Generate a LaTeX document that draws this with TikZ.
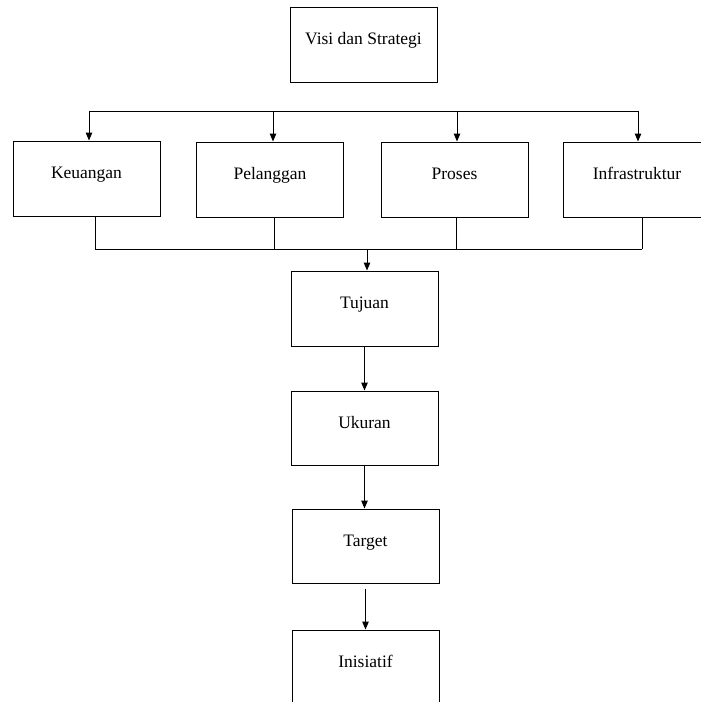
\documentclass[tikz,border=0pt]{standalone}
\usepackage{fontspec}
\setmainfont{Liberation Serif}
\usetikzlibrary{arrows.meta}
\tikzset{
        kotak/.style = {rectangle, draw=black, line width=1pt, align=center,
            inner sep=0pt, minimum width=147pt, minimum height=75pt,
            text height=13.5pt, text depth=13.5pt,
            font=\fontsize{17.5}{20}\selectfont},
        panah/.style = {-{Triangle[length=8pt,width=6.5pt]}, line width=1pt}
    }
\begin{document}
\begin{tikzpicture}[x=1pt, y=-1pt, line width=1pt]
            \useasboundingbox (0,0) rectangle (701,702);
            \node [kotak] (visi) at (363.5,44.5) {Visi dan Strategi}; % PUNCAK
            % perspektif
            \node [kotak] (keu) at (86.5,178.5) {Keuangan};
            \node [kotak] (pel) at (270,179.5) {Pelanggan};
            \node [kotak] (pro) at (454.5,179.5) {Proses};
            \node [kotak] (inf) at (637,179.5) {Infrastruktur};
            % alur ke bawah
            \node [kotak] (tuj) at (364.5,308.5) {Tujuan};
            \node [kotak, minimum height=74pt] (uku) at (364.5,428) {Ukuran};
            \node [kotak, minimum height=74pt] (tar) at (365.5,546) {Target};
            \node [kotak] (ini) at (365.5,667.5) {Inisiatif};

            % garis atas
            \foreach \n/\x in {keu/89, pel/273, pro/457, inf/638}{
                \coordinate (a\n) at (\x,111);
                \draw [panah] (a\n) -- (a\n |- \n.north);
            }
            \draw (akeu) -- (ainf);

            % garis bawah
            \foreach \n/\x in {keu/95, pel/274, pro/456, inf/642}{
                \coordinate (b\n) at (\x,249);
                \draw (b\n |- \n.south) -- (b\n);
            }
            \draw (bkeu) -- (binf);
            \coordinate (tengah) at (367,249);
            \draw [panah] (tengah) -- (tengah |- tuj.north);

            \draw [panah] (tuj) -- (uku);
            \draw [panah] (uku.south) -- (uku.south |- tar.north);
            \draw [panah, shorten <=5pt] (tar.south) -- (tar.south |- ini.north);
\end{tikzpicture}
\end{document}
